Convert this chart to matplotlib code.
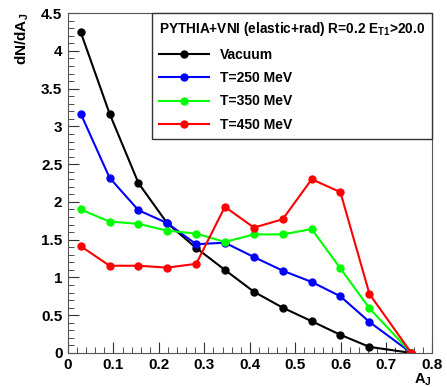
import matplotlib
matplotlib.use("Agg")
import matplotlib.pyplot as plt
from matplotlib.ticker import MultipleLocator

plt.rcParams["font.family"] = ["Liberation Sans", "DejaVu Sans"]
plt.rcParams["font.weight"] = "bold"
plt.rcParams["axes.labelweight"] = "bold"
plt.rcParams["mathtext.fontset"] = "custom"
plt.rcParams["mathtext.rm"] = "Liberation Sans:bold"
plt.rcParams["mathtext.it"] = "Liberation Sans:bold"
plt.rcParams["mathtext.bf"] = "Liberation Sans:bold"

# A_J bin positions
aj = [0.028, 0.0915, 0.155, 0.218, 0.282, 0.345, 0.409, 0.472, 0.536, 0.599, 0.663, 0.755]

vacuum = [4.25, 3.17, 2.25, 1.72, 1.39, 1.10, 0.81, 0.60, 0.42, 0.24, 0.08, 0.0]
t250 = [3.17, 2.32, 1.89, 1.72, 1.44, 1.46, 1.27, 1.09, 0.94, 0.75, 0.41, 0.0]
t350 = [1.90, 1.74, 1.71, 1.62, 1.58, 1.47, 1.57, 1.57, 1.64, 1.12, 0.59, 0.0]
t450 = [1.415, 1.155, 1.155, 1.13, 1.18, 1.935, 1.66, 1.77, 2.30, 2.13, 0.78, 0.0]

labels = ["Vacuum", "T=250 MeV", "T=350 MeV", "T=450 MeV"]
colors = ["#000000", "#0000ff", "#00ff00", "#ff0000"]
series = [vacuum, t250, t350, t450]

fig = plt.figure(figsize=(4.47, 3.87), dpi=100)
ax = fig.add_axes([0.152, 0.088, 0.814, 0.878])

for vals, lab, col in zip(series, labels, colors):
    ax.plot(aj, vals, color=col, lw=1.5, marker="o", markersize=5, label=lab)

ax.set_xlim(0, 0.8)
ax.set_ylim(0, 4.5)
ax.xaxis.set_major_locator(MultipleLocator(0.1))
ax.xaxis.set_minor_locator(MultipleLocator(0.02))
ax.yaxis.set_major_locator(MultipleLocator(0.5))
ax.yaxis.set_minor_locator(MultipleLocator(0.1))
ax.tick_params(which="both", direction="in", top=False, right=False,
               labelsize=11, color="#333333")
ax.tick_params(which="major", length=8, pad=4)
ax.tick_params(which="minor", length=4)
ax.set_xticklabels([("%g" % v) for v in ax.get_xticks()])
ax.set_yticklabels([("%g" % v) for v in ax.get_yticks()])
for s in ax.spines.values():
    s.set_color("#555555")

ax.set_xlabel(r"A$_{\rm J}$", loc="right", fontsize=10.5, labelpad=-1)
ax.set_ylabel(r"dN/dA$_{\rm J}$", loc="top", fontsize=11, labelpad=7)

leg = ax.legend(loc="upper right", bbox_to_anchor=(1.0, 1.0), borderaxespad=0,
                title=r"PYTHIA+VNI (elastic+rad) R=0.2 E$_{\rm T1}$>20.0",
                fontsize=10, title_fontsize=9.8, fancybox=False,
                edgecolor="#333333", framealpha=1, handlelength=3.6,
                labelspacing=0.68, borderpad=0.5, alignment="left")
leg.get_frame().set_linewidth(1.0)

fig.savefig("out.png", dpi=100)
